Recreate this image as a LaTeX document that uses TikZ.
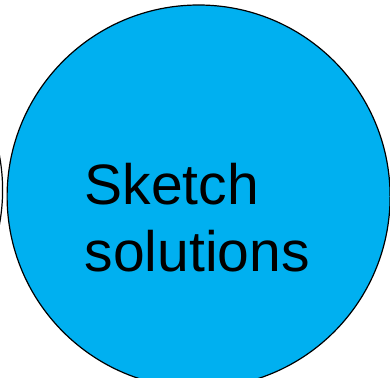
\documentclass[tikz,border=0pt]{standalone}
\usepackage{fontspec}
\setmainfont{Liberation Sans}
\usepackage{xcolor}
\definecolor{solblue}{HTML}{00B0F0}

\begin{document}
\begin{tikzpicture}[x=1pt, y=1pt]
\tikzset{
  solc/.style ={circle, draw=black, line width=1.2pt, fill=solblue, inner sep=0pt, minimum size=383pt},
  txt/.style  ={align=left, inner sep=0pt, font=\fontsize{57}{67}\selectfont}
}
\useasboundingbox (0,0) rectangle (390,-377);
\begin{scope}
\clip (0,0) rectangle (390,-377);
\draw[line width=1.2pt] (2.6,-190) arc[start angle=0, end angle=40, radius=191];
\draw[line width=1.2pt] (2.6,-190) arc[start angle=0, end angle=-40, radius=191];
\node (sol)[solc] at (198.6,-196.5) {};
\end{scope}
\node (lbl)[txt, anchor=north west] at (84.5,-163) {Sketch\\solutions};
\end{tikzpicture}
\end{document}
